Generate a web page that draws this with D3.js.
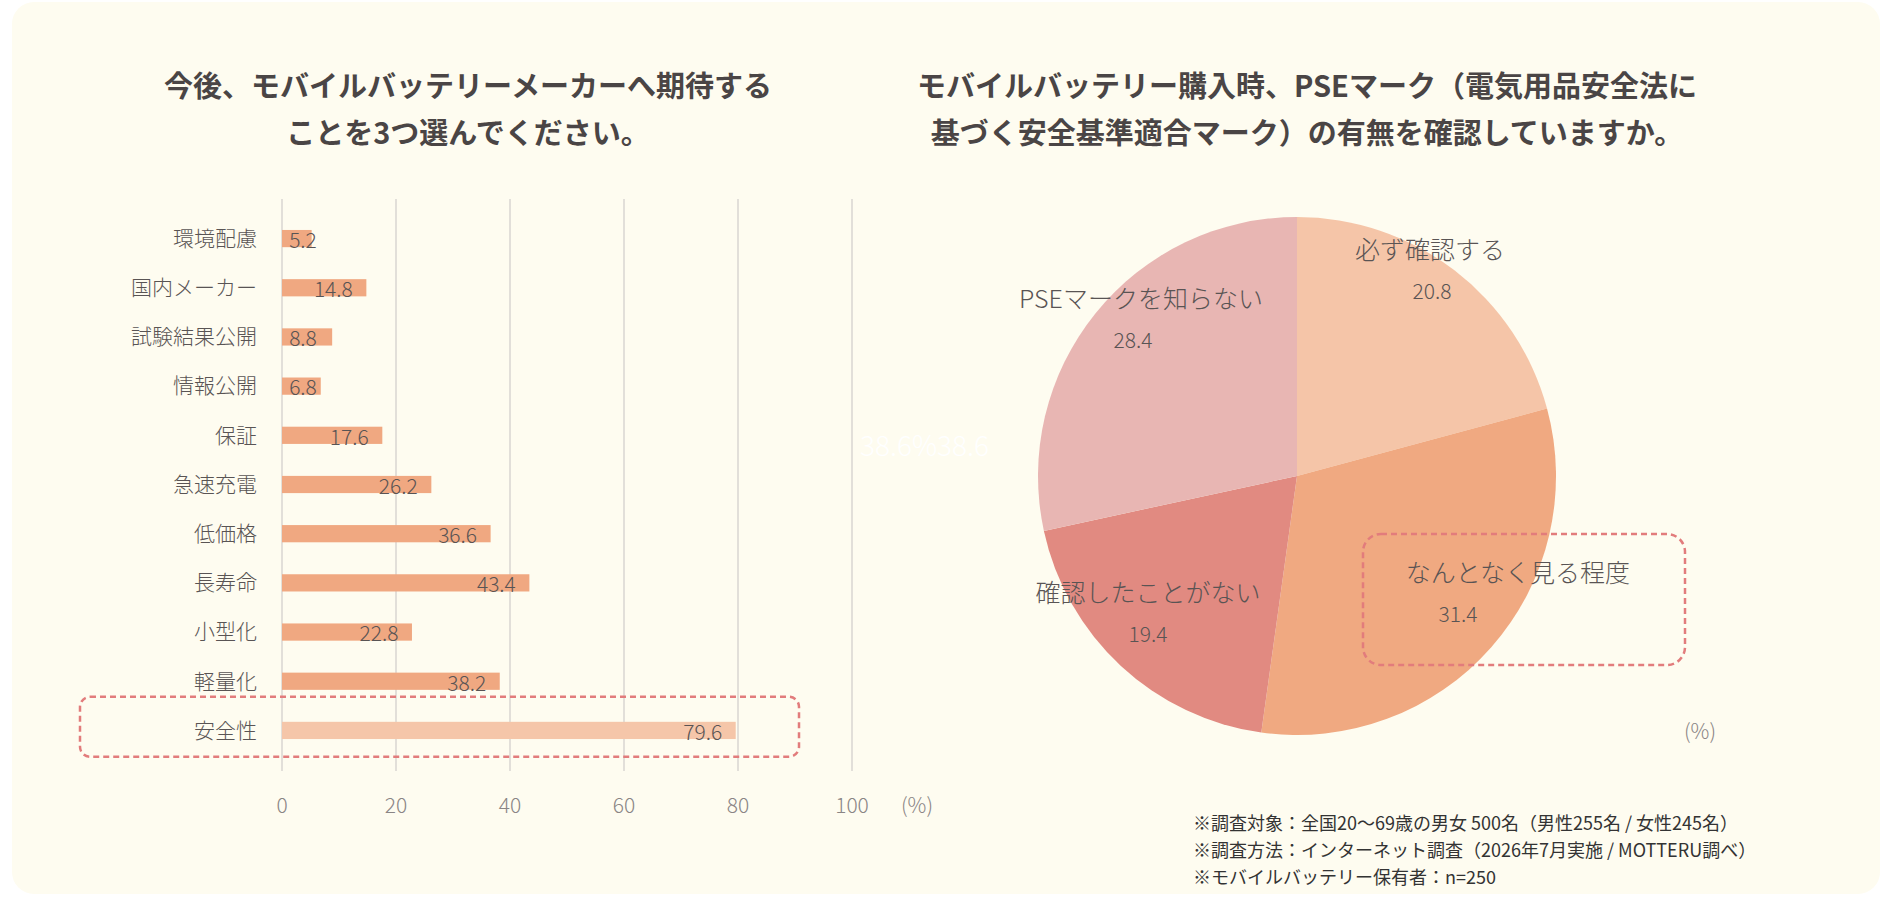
<!DOCTYPE html>
<html><head><meta charset="utf-8">
<script src="https://cdn.jsdelivr.net/npm/d3@7"></script>
<style>
body{margin:0;background:#fff;}
text{font-family:"Noto Sans CJK JP","Noto Sans",sans-serif;}
</style></head>
<body><div class="d3-container"></div>
<script>
// bar chart data (bottom to top in the picture is reversed: first item is top)
const barCats = ["環境配慮","国内メーカー","試験結果公開","情報公開","保証","急速充電","低価格","長寿命","小型化","軽量化","安全性"];
const barVals = [5.2,14.8,8.8,6.8,17.6,26.2,36.6,43.4,22.8,38.2,79.6];
const barTicks = [0,20,40,60,80,100];

// pie data
const pieCats = ["必ず確認する","なんとなく見る程度","確認したことがない","PSEマークを知らない"];
const pieVals = [20.8,31.4,19.4,28.4];
const pieColors = ["#f5c5a8","#f0a981","#e18a81","#e8b6b3"];

const notes = ["※調査対象：全国20〜69歳の男女 500名（男性255名 / 女性245名）",
  "※調査方法：インターネット調査（2026年7月実施 / MOTTERU調べ）",
  "※モバイルバッテリー保有者：n=250"];

const width = 1890, height = 900;
const ink = "#595454";

const svg = d3.select(".d3-container").append("svg")
  .attr("width", width).attr("height", height);

svg.append("rect").attr("x", 12).attr("y", 2).attr("width", 1868).attr("height", 892)
  .attr("rx", 22).attr("fill", "#fefcf0");

// titles
function title(lines, cx) {
  lines.forEach((t, i) => svg.append("text").attr("x", cx).attr("y", 97 + i * 47)
    .attr("text-anchor", "middle").attr("font-size", 29).attr("font-weight", 700)
    .attr("fill", "#4a4545").text(t));
}
title(["今後、モバイルバッテリーメーカーへ期待する","ことを3つ選んでください。"], 468);
title(["モバイルバッテリー購入時、PSEマーク（電気用品安全法に","基づく安全基準適合マーク）の有無を確認していますか。"], 1307);

// bar chart
const x = d3.scaleLinear().domain([0,100]).range([282, 852]);
const y = d3.scaleBand().domain(barCats).range([198, 771]).padding(0.65);

svg.append("g").selectAll("line").data(barTicks).join("line")
  .attr("x1", d => x(d)).attr("x2", d => x(d)).attr("y1", 199).attr("y2", 771)
  .attr("stroke", "#d8d6d2").attr("stroke-width", 1.5);

svg.append("g").selectAll("rect").data(barCats).join("rect")
  .attr("x", x(0)).attr("y", d => y(d)).attr("height", y.bandwidth())
  .attr("width", (d, i) => x(barVals[i]) - x(0))
  .attr("fill", d => d === "安全性" ? "#f5c6a9" : "#f0a881");

svg.append("g").selectAll("text").data(barCats).join("text")
  .attr("x", 257).attr("y", d => y(d) + y.bandwidth() / 2).attr("dy", "0.35em")
  .attr("text-anchor", "end").attr("font-size", 21).attr("font-weight", 300)
  .attr("fill", ink).text(d => d);

svg.append("g").selectAll("text").data(barCats).join("text")
  .attr("x", (d, i) => Math.max(x(barVals[i]) - 33, x(0) + 21))
  .attr("y", d => y(d) + y.bandwidth() / 2 + 2).attr("dy", "0.35em")
  .attr("text-anchor", "middle").attr("font-size", 21).attr("font-weight", 300)
  .attr("fill", ink).text((d, i) => barVals[i]);

svg.append("g").selectAll("text").data(barTicks).join("text")
  .attr("x", d => x(d)).attr("y", 806).attr("dy", "0.35em").attr("text-anchor", "middle")
  .attr("font-size", 21).attr("font-weight", 300).attr("fill", "#8a8585").text(d => d);
svg.append("text").attr("x", 917).attr("y", 806).attr("dy", "0.35em").attr("text-anchor", "middle")
  .attr("font-size", 21).attr("font-weight", 300).attr("fill", "#8a8585").text("(%)");

svg.append("rect").attr("x", 80).attr("y", y("安全性") - 25).attr("width", 719).attr("height", 60)
  .attr("rx", 10).attr("fill", "none").attr("stroke", "#e27c7c").attr("stroke-width", 2.5)
  .attr("stroke-dasharray", "6,4");

// faint ghost label
svg.append("text").attr("x", 860).attr("y", 456).attr("font-size", 28).attr("font-weight", 200)
  .attr("fill", "#ffffff").text("38.6%38.6");

// pie
const cx = 1297, cy = 476, r = 259;
const arcs = d3.pie().sort(null)(pieVals);
const arc = d3.arc().innerRadius(0).outerRadius(r);
const gp = svg.append("g").attr("transform", `translate(${cx},${cy})`);
gp.selectAll("path").data(arcs).join("path").attr("d", arc).attr("fill", (d, i) => pieColors[i]);

const labelPos = [[133,-217],[221,106],[-149,126],[-156,-168]];
gp.selectAll("text.cat").data(arcs).join("text").attr("class", "cat")
  .attr("x", (d, i) => labelPos[i][0]).attr("y", (d, i) => labelPos[i][1])
  .attr("text-anchor", "middle").attr("font-size", 25).attr("font-weight", 300)
  .attr("fill", ink).text((d, i) => pieCats[i]);
gp.selectAll("text.val").data(arcs).join("text").attr("class", "val")
  .attr("x", (d, i) => labelPos[i][0] + [2,-60,0,-8][i]).attr("y", (d, i) => labelPos[i][1] + 40)
  .attr("text-anchor", "middle").attr("font-size", 21).attr("font-weight", 300)
  .attr("fill", ink).text(d => d.data);

svg.append("rect").attr("x", 1363).attr("y", 534).attr("width", 322).attr("height", 131)
  .attr("rx", 18).attr("fill", "none").attr("stroke", "#e27c7c").attr("stroke-width", 2.5)
  .attr("stroke-dasharray", "6,4");

svg.append("text").attr("x", 1700).attr("y", 732).attr("dy", "0.35em").attr("text-anchor", "middle")
  .attr("font-size", 21).attr("font-weight", 300).attr("fill", "#8a8585").text("(%)");

svg.append("g").selectAll("text").data(notes).join("text")
  .attr("x", 1193).attr("y", (d, i) => 830 + i * 27).attr("font-size", 18).attr("font-weight", 400)
  .attr("fill", "#333").text(d => d);
</script></body></html>
